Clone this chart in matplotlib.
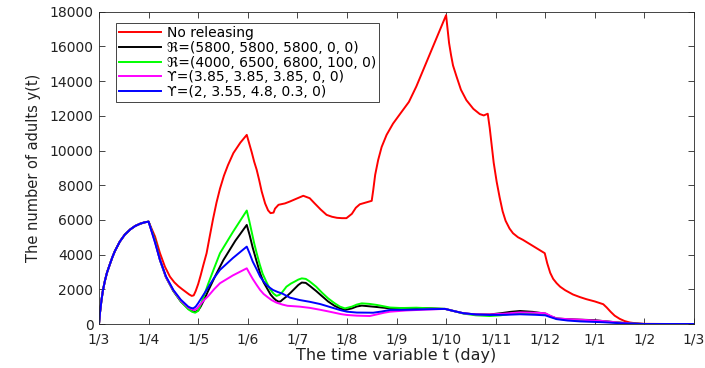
import matplotlib
matplotlib.use("Agg")
import matplotlib.pyplot as plt

# time axis: months counted from 1 March (0) to 1 March next year (12)
tick_pos = list(range(13))
tick_labels = ["1/3", "1/4", "1/5", "1/6", "1/7", "1/8", "1/9", "1/10",
               "1/11", "1/12", "1/1", "1/2", "1/3"]

# all scenarios share the same first month (before any releasing)
start_t = [0, 0.02, 0.05, 0.08, 0.12, 0.16, 0.22, 0.27, 0.32, 0.42,
           0.52, 0.63, 0.73, 0.83, 0.92, 1.0]
start_y = [0, 650, 1380, 1950, 2500, 2950, 3450, 3850, 4200, 4750,
           5150, 5450, 5650, 5780, 5860, 5900]

red_t = start_t + [
    1.06, 1.13, 1.23, 1.33, 1.43, 1.52, 1.6, 1.68, 1.75, 1.82, 1.87,
    1.91, 1.95, 2.0, 2.05, 2.1, 2.17, 2.23, 2.3, 2.37,
    2.44, 2.52, 2.6, 2.71, 2.85, 2.98, 3.03, 3.08, 3.13, 3.18, 3.23, 3.28,
    3.35, 3.41, 3.46, 3.52, 3.55, 3.62, 3.75, 3.85, 3.98, 4.12, 4.25,
    4.35, 4.47, 4.59, 4.7, 4.8, 4.9, 4.99, 5.1, 5.18, 5.26, 5.38,
    5.5, 5.53, 5.57, 5.63, 5.7, 5.8, 5.93, 6.07, 6.25, 6.4, 7.0,
    7.03, 7.06, 7.1, 7.14, 7.21, 7.3, 7.41, 7.55, 7.68, 7.76, 7.84,
    7.88, 7.92, 7.96, 8.02, 8.08, 8.14, 8.2, 8.28, 8.35, 8.45, 8.55,
    8.75, 8.99, 9.04, 9.1, 9.16, 9.23, 9.3, 9.4, 9.56, 9.7, 9.83,
    10.0, 10.17, 10.24, 10.32, 10.4, 10.5, 10.6, 10.7, 10.8, 10.9,
    11.0, 11.5, 12.0]
red_y = start_y + [
    5500, 5040, 4080, 3300, 2730, 2400, 2180, 2000, 1850, 1700, 1620,
    1650, 1900, 2300, 2800, 3350, 4080, 5000, 6050, 7000,
    7800, 8550, 9150, 9850, 10450, 10900, 10400, 9900, 9350, 8890, 8300, 7650,
    6950, 6550, 6390, 6420, 6650, 6870, 6950, 7060, 7220, 7390, 7250,
    6950, 6600, 6290, 6180, 6120, 6100, 6100, 6350, 6700, 6900, 7000,
    7100, 7700, 8600, 9450, 10200, 10900, 11550, 12100, 12800, 13690, 17800,
    17000, 16200, 15500, 14900, 14270, 13500, 12900, 12400, 12100, 12020, 12120,
    11300, 10300, 9300, 8200, 7300, 6500, 5950, 5500, 5230, 5000, 4850,
    4500, 4080, 3500, 2950, 2600, 2350, 2150, 1950, 1700, 1550, 1430,
    1300, 1140, 950, 700, 480, 300, 170, 90, 50, 25,
    10, 0, 0]

black_t = start_t + [
    1.06, 1.13, 1.23, 1.35, 1.5, 1.65, 1.8, 1.88, 1.94, 2.0, 2.05, 2.12,
    2.2, 2.35, 2.51, 2.75, 2.98, 3.04, 3.1, 3.18, 3.25, 3.32, 3.4, 3.46,
    3.52, 3.57, 3.62, 3.66, 3.7, 3.78, 3.87, 3.95, 4.02, 4.09, 4.17,
    4.25, 4.38, 4.5, 4.62, 4.75, 4.86, 4.96, 5.1, 5.2, 5.3, 5.45, 5.6,
    5.87, 6.1, 6.4, 6.7, 6.98, 7.15, 7.35, 7.6, 7.88, 8.1, 8.3, 8.49,
    8.75, 9.0, 9.1, 9.23, 9.45, 9.7, 10.0, 10.17, 10.35, 10.5, 10.65,
    10.8, 11.0, 12.0]
black_y = start_y + [
    5400, 4800, 3690, 2700, 1900, 1300, 880, 750, 700, 780, 1000, 1400,
    1900, 2800, 3690, 4800, 5710, 5100, 4400, 3600, 2920, 2400, 2000, 1700,
    1500, 1370, 1290, 1300, 1400, 1580, 1820, 2050, 2250, 2390, 2370,
    2200, 1900, 1600, 1300, 1050, 900, 810, 900, 1010, 1060, 1020, 980,
    900, 900, 920, 900, 870, 750, 620, 550, 550, 620, 700, 750,
    700, 600, 450, 320, 280, 250, 220, 170, 120, 80, 45,
    20, 0, 0]

green_t = start_t + [
    1.06, 1.13, 1.23, 1.35, 1.5, 1.65, 1.8, 1.88, 1.94, 2.0, 2.05, 2.12,
    2.2, 2.32, 2.44, 2.7, 2.98, 3.03, 3.08, 3.13, 3.18, 3.24, 3.3, 3.38,
    3.45, 3.52, 3.58, 3.64, 3.7, 3.78, 3.87, 3.95, 4.02, 4.09, 4.17,
    4.25, 4.38, 4.5, 4.62, 4.75, 4.86, 4.96, 5.1, 5.2, 5.3, 5.45, 5.6,
    5.87, 6.1, 6.4, 6.7, 6.98, 7.15, 7.35, 7.6, 7.88, 8.1, 8.3, 8.49,
    8.75, 9.0, 9.1, 9.23, 9.45, 9.7, 10.0, 10.17, 10.35, 10.5, 10.65,
    10.8, 11.0, 12.0]
green_y = start_y + [
    5400, 4800, 3690, 2700, 1900, 1300, 850, 700, 650, 760, 1100, 1650,
    2300, 3200, 4080, 5300, 6540, 5950, 5300, 4650, 4080, 3450, 2900, 2400,
    2000, 1750, 1620, 1680, 1850, 2150, 2330, 2450, 2560, 2630, 2600,
    2450, 2150, 1800, 1480, 1200, 1000, 900, 1000, 1120, 1190, 1160, 1100,
    950, 920, 940, 900, 870, 750, 600, 500, 460, 500, 580, 620,
    620, 580, 450, 300, 250, 200, 180, 150, 110, 80, 45,
    20, 0, 0]

magenta_t = start_t + [
    1.06, 1.13, 1.23, 1.35, 1.5, 1.65, 1.8, 1.87, 1.92, 1.98, 2.05, 2.12,
    2.2, 2.32, 2.44, 2.7, 2.98, 3.04, 3.1, 3.18, 3.25, 3.32, 3.4, 3.48,
    3.58, 3.7, 3.8, 4.05, 4.25, 4.46, 4.6, 4.75, 4.88, 5.0, 5.2, 5.46,
    5.6, 5.75, 5.87, 6.2, 6.6, 6.98, 7.15, 7.35, 7.6, 7.88, 8.2, 8.49,
    8.8, 9.0, 9.1, 9.23, 9.45, 9.7, 10.0, 10.17, 10.35, 10.5, 10.65,
    10.8, 11.0, 12.0]
magenta_y = start_y + [
    5350, 4700, 3690, 2700, 1930, 1350, 950, 850, 800, 900, 1150, 1380,
    1600, 2000, 2350, 2800, 3210, 2900, 2600, 2250, 1960, 1730, 1550, 1380,
    1230, 1120, 1050, 1000, 930, 820, 740, 650, 570, 520, 480, 460,
    550, 650, 710, 780, 830, 870, 750, 620, 550, 550, 600, 670,
    650, 620, 480, 320, 280, 250, 200, 170, 120, 80, 45,
    20, 0, 0]

blue_t = start_t + [
    1.06, 1.13, 1.23, 1.35, 1.5, 1.65, 1.8, 1.85, 1.9, 1.95, 2.0, 2.1,
    2.2, 2.32, 2.44, 2.7, 2.98, 3.04, 3.1, 3.18, 3.25, 3.32, 3.38, 3.45,
    3.51, 3.6, 3.7, 3.85, 4.05, 4.25, 4.46, 4.6, 4.75, 4.88, 5.0, 5.2,
    5.53, 5.7, 5.87, 6.2, 6.6, 6.98, 7.15, 7.35, 7.6, 7.88, 8.2, 8.49,
    8.8, 9.0, 9.1, 9.23, 9.45, 9.7, 10.0, 10.17, 10.35, 10.5, 10.65,
    10.8, 11.0, 12.0]
blue_y = start_y + [
    5350, 4700, 3690, 2750, 1960, 1400, 1000, 930, 900, 1000, 1200, 1650,
    2100, 2650, 3120, 3800, 4460, 4050, 3600, 3150, 2730, 2450, 2250, 2080,
    1960, 1850, 1750, 1520, 1380, 1280, 1150, 1030, 900, 790, 710, 660,
    650, 720, 810, 820, 850, 870, 750, 620, 550, 520, 530, 560,
    530, 500, 400, 280, 200, 150, 120, 100, 70, 50, 30,
    20, 0, 0]

labels = ["No releasing",
          "\u211c=(5800, 5800, 5800, 0, 0)",
          "\u211c=(4000, 6500, 6800, 100, 0)",
          "\u03d2=(3.85, 3.85, 3.85, 0, 0)",
          "\u03d2=(2, 3.55, 4.8, 0.3, 0)"]

plt.rcParams["font.family"] = ["DejaVu Sans", "Noto Sans"]
edge = "#262626"
txt = "#222222"

fig = plt.figure(figsize=(7.05, 3.68), dpi=100)
ax = fig.add_axes([99 / 705, 44 / 368, 595 / 705, 312.3 / 368])

lw = 1.4
ax.plot(red_t, red_y, color="red", lw=lw, label=labels[0])
ax.plot(black_t, black_y, color="black", lw=lw, label=labels[1])
ax.plot(green_t, green_y, color="#00ff00", lw=lw, label=labels[2])
ax.plot(magenta_t, magenta_y, color="magenta", lw=lw, label=labels[3])
ax.plot(blue_t, blue_y, color="blue", lw=lw, label=labels[4])

ax.set_xlim(0, 12)
ax.set_ylim(0, 18000)
ax.set_xticks(tick_pos)
ax.set_xticklabels(tick_labels)
ax.set_yticks(range(0, 18001, 2000))
ax.tick_params(direction="in", top=True, right=True, length=4, width=0.6,
               colors=edge, labelcolor=txt, labelsize=10)
ax.tick_params(axis="x", pad=6)
ax.tick_params(axis="y", pad=4)
for s in ax.spines.values():
    s.set_color(edge)
    s.set_linewidth(0.6)

ax.set_xlabel("The time variable t (day)", fontsize=11.5, color=txt, labelpad=1)
ax.set_ylabel("The number of adults y(t)", fontsize=10.5, color=txt, labelpad=6)

leg = ax.legend(loc="upper left", bbox_to_anchor=(17 / 595, 1 - 11 / 312.3),
                borderaxespad=0, fontsize=10, frameon=True, fancybox=False,
                edgecolor=edge, framealpha=1, handlelength=3.0,
                handletextpad=0.4, labelspacing=0.05, borderpad=0.25)
leg.get_frame().set_linewidth(0.6)

fig.savefig("out.png", dpi=100)
plt.close(fig)
